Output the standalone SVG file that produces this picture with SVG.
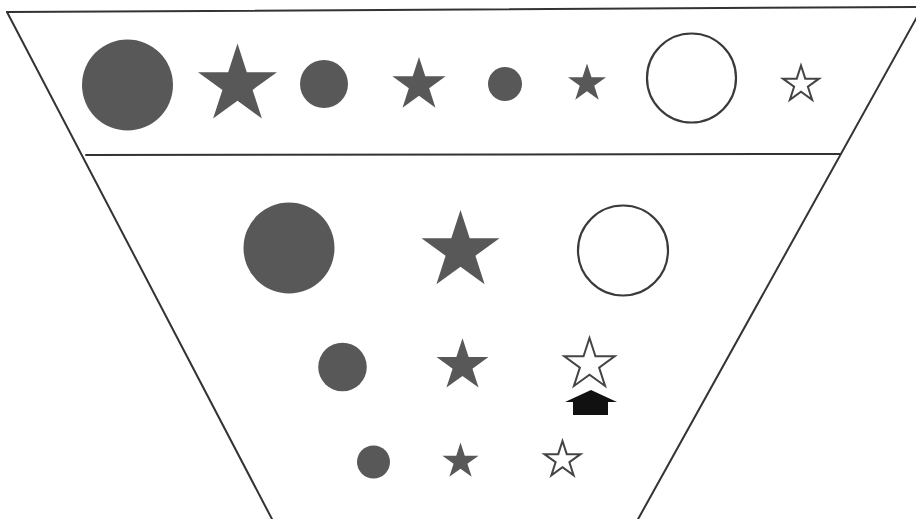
<svg xmlns="http://www.w3.org/2000/svg" xmlns:xlink="http://www.w3.org/1999/xlink" width="916" height="519" viewBox="0 0 916 519">
  <style>
    .frame { stroke: #333; stroke-width: 2; fill: none; stroke-linecap: round; }
    .solid { fill: #585859; }
    .open { fill: #fff; stroke: #3a3a3a; stroke-width: 2.2; }
    .ostar { fill: #fff; stroke: #444; stroke-width: 2; stroke-linejoin: miter; }
    .arrow { fill: #111; }
  </style>
  <defs>
    <path id="star" vector-effect="non-scaling-stroke" d="M0,-1 L0.2245,-0.309 L0.9511,-0.309 L0.3633,0.118 L0.5878,0.809 L0,0.382 L-0.5878,0.809 L-0.3633,0.118 L-0.9511,-0.309 L-0.2245,-0.309 Z"/>
  </defs>
  <rect width="916" height="519" fill="#fff"/>

  <g id="frame">
    <line class="frame" x1="7" y1="12" x2="918" y2="7"/>
    <line class="frame" x1="7" y1="12" x2="273" y2="521"/>
    <line class="frame" x1="637" y1="521" x2="922" y2="8"/>
    <line class="frame" x1="86" y1="155" x2="840" y2="154"/>
  </g>

  <!-- top row -->
  <g id="t-circle-1"><circle class="solid" cx="127.5" cy="85" r="45.5"/></g>
  <g id="t-star-1"><use xlink:href="#star" class="solid" transform="translate(237.5,85) scale(41.5)"/></g>
  <g id="t-circle-2"><circle class="solid" cx="324" cy="84" r="24"/></g>
  <g id="t-star-2"><use xlink:href="#star" class="solid" transform="translate(419,85) scale(28)"/></g>
  <g id="t-circle-3"><circle class="solid" cx="505" cy="84" r="17"/></g>
  <g id="t-star-3"><use xlink:href="#star" class="solid" transform="translate(587,83.5) scale(20)"/></g>
  <g id="t-open-circle"><circle class="open" cx="691.5" cy="78" r="44.5"/></g>
  <g id="t-open-star"><use xlink:href="#star" class="ostar" transform="translate(801,84.5) scale(19)"/></g>

  <!-- row 2 -->
  <g id="r2-circle"><circle class="solid" cx="289" cy="248" r="45.5"/></g>
  <g id="r2-star"><use xlink:href="#star" class="solid" transform="translate(460.5,251) scale(41)"/></g>
  <g id="r2-open-circle"><circle class="open" cx="623" cy="250.5" r="45"/></g>

  <!-- row 3 -->
  <g id="r3-circle"><circle class="solid" cx="342.5" cy="367" r="24.3"/></g>
  <g id="r3-star"><use xlink:href="#star" class="solid" transform="translate(462.5,365.5) scale(27.3)"/></g>
  <g id="r3-open-star"><use xlink:href="#star" class="ostar" transform="translate(589.5,364.5) scale(26.5)"/></g>
  <g id="r3-arrow"><path class="arrow" d="M573,415 L573,402 L565,402 L591,390 L617,402 L608,402 L608,415 Z"/></g>

  <!-- row 4 -->
  <g id="r4-circle"><circle class="solid" cx="373.5" cy="462" r="16.5"/></g>
  <g id="r4-star"><use xlink:href="#star" class="solid" transform="translate(460.5,461.5) scale(19)"/></g>
  <g id="r4-open-star"><use xlink:href="#star" class="ostar" transform="translate(562.5,460) scale(19)"/></g>
</svg>
